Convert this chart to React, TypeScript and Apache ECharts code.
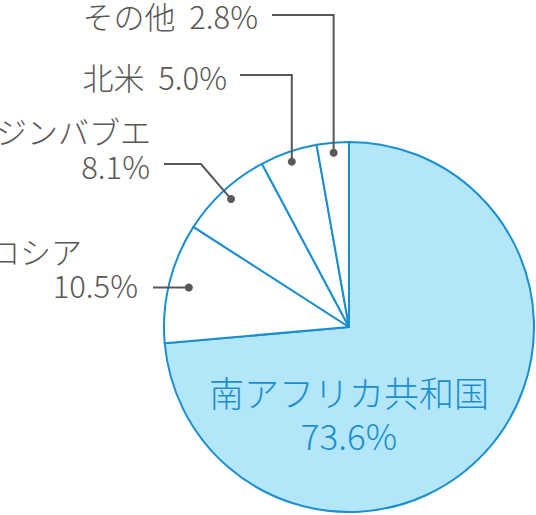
import React, { useEffect, useRef } from "react";
import * as echarts from "echarts";

const categories = ["南アフリカ共和国", "ロシア", "ジンバブエ", "北米", "その他"];
const shares = [73.6, 10.5, 8.1, 5.0, 2.8];

const CENTER: [number, number] = [349, 327];
const RADIUS = 185;
const GRAY = "#595757";
const BLUE = "#1a8fd0";
const LIGHT = "#b3e6f9";
const FONT = "'Noto Sans CJK JP', 'Noto Sans', sans-serif";

type Lay = {
  dotR: number;
  nameX: number;
  nameY: number;
  pctX: number;
  pctY: number;
  lineY: number;
  lineStartX: number;
  elbowX?: number;
  kind: "flat" | "elbow" | "vertical";
  twoLine: boolean;
};

const layouts: (Lay | null)[] = [
  null,
  { dotR: 165, nameX: 82, nameY: 250, pctX: 138, pctY: 284, lineY: 285, lineStartX: 153, kind: "flat", twoLine: true },
  { dotR: 174, nameX: 151, nameY: 130, pctX: 150, pctY: 165, lineY: 164, lineStartX: 164, elbowX: 201, kind: "elbow", twoLine: true },
  { dotR: 175, nameX: 227, nameY: 76, pctX: 227, pctY: 76, lineY: 75, lineStartX: 240, kind: "vertical", twoLine: false },
  { dotR: 175, nameX: 258, nameY: 15, pctX: 258, pctY: 15, lineY: 15, lineStartX: 272, kind: "vertical", twoLine: false },
];

function dotPositions(): ([number, number] | null)[] {
  const total = shares.reduce((a, b) => a + b, 0);
  let cum = 0;
  return shares.map((v, i) => {
    const mid = ((cum + v / 2) / total) * Math.PI * 2;
    cum += v;
    const lay = layouts[i];
    if (!lay) return null;
    return [CENTER[0] + lay.dotR * Math.sin(mid), CENTER[1] - lay.dotR * Math.cos(mid)];
  });
}

export default function App() {
  const ref = useRef<HTMLDivElement>(null);
  useEffect(() => {
    if (!ref.current) return;
    const chart = echarts.init(ref.current, undefined, { renderer: "svg" });
    const dots = dotPositions();

    const data = categories.map((name, i) => {
      const isMain = i === 0;
      return {
        name,
        value: shares[i],
        itemStyle: { color: isMain ? LIGHT : "#ffffff", borderColor: BLUE, borderWidth: 2 },
        label: isMain
          ? {
              show: true,
              position: "inside",
              color: BLUE,
              fontSize: 35,
              lineHeight: 43,
              align: "center",
              overflow: "none",
            }
          : { show: false },
        labelLine: { show: false },
      };
    });

    const graphics: any[] = [];
    layouts.forEach((lay, i) => {
      if (!lay) return;
      const d = dots[i] as [number, number];
      let pts: number[][];
      if (lay.kind === "flat") {
        pts = [d, [lay.lineStartX, d[1]]];
      } else if (lay.kind === "elbow") {
        pts = [d, [lay.elbowX as number, lay.lineY], [lay.lineStartX, lay.lineY]];
      } else {
        pts = [d, [d[0], lay.lineY], [lay.lineStartX, lay.lineY]];
      }
      graphics.push({
        type: "polyline",
        z: 100,
        shape: { points: pts },
        style: { stroke: GRAY, lineWidth: 2, fill: null },
      });
      graphics.push({
        type: "circle",
        z: 101,
        shape: { cx: d[0], cy: d[1], r: 4 },
        style: { fill: GRAY },
      });
      const pct = shares[i].toFixed(1) + "%";
      const font = { fill: GRAY, fontSize: 31, fontFamily: FONT, fontWeight: 300, align: "right", verticalAlign: "middle" };
      if (lay.twoLine) {
        graphics.push({ type: "text", z: 100, x: lay.nameX, y: lay.nameY, style: { ...font, text: categories[i] } });
        graphics.push({ type: "text", z: 100, x: lay.pctX, y: lay.pctY, style: { ...font, text: pct } });
      } else {
        graphics.push({
          type: "text",
          z: 100,
          x: lay.nameX,
          y: lay.nameY,
          style: { ...font, text: `${categories[i]}  ${pct}` },
        });
      }
    });

    chart.setOption({
      animation: false,
      series: [
        {
          type: "pie",
          center: CENTER,
          radius: RADIUS,
          startAngle: 90,
          clockwise: true,
          data,
          label: {
            fontFamily: FONT,
            fontWeight: 300,
            formatter: (p: any) => `${p.name}\n${shares[p.dataIndex].toFixed(1)}%`,
          },
          labelLayout: (params: any) => {
            if (params.dataIndex === 0) {
              return { x: CENTER[0], y: 413, align: "center", verticalAlign: "middle" };
            }
            return {};
          },
        },
      ],
      graphic: graphics,
    });
    return () => chart.dispose();
  }, []);
  return (
    <div
      ref={ref}
      style={{ position: "absolute", left: 0, top: 0, width: 536, height: 515 }}
    />
  );
}
